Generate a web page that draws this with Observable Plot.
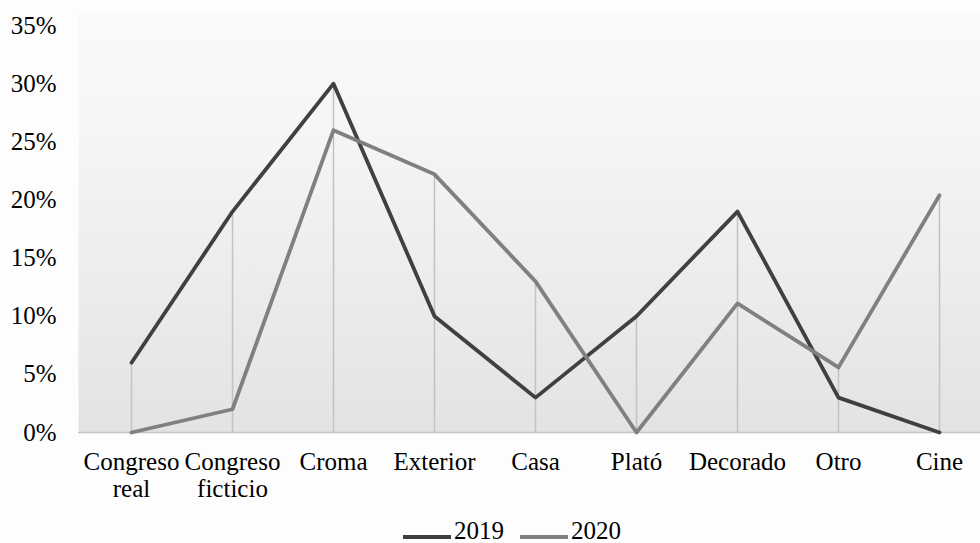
<!DOCTYPE html>
<html>
<head>
<meta charset="utf-8">
<script src="https://cdn.jsdelivr.net/npm/d3@7"></script>
<script src="https://cdn.jsdelivr.net/npm/@observablehq/plot@0.6"></script>
<style>
  html, body { margin: 0; padding: 0; background: #fdfdfd; overflow: hidden; }
  #chart { width: 980px; height: 543px; position: relative; font-family: "Liberation Serif", "Times New Roman", serif; }
  .legend { position: absolute; left: 0; top: 518px; width: 980px; box-sizing: border-box; padding-left: 44px; display: flex; justify-content: center; align-items: center; font-size: 25px; line-height: 25px; height: 25px; color: #000; }
  .legend .item { display: flex; align-items: center; margin: 0 8px; }
  .legend .swatch { width: 48px; height: 4px; margin-right: 3px; position: relative; top: 6px; }
</style>
</head>
<body>
<div id="chart"></div>
<script>
// Shooting locations, share per year
const categories = ["Congreso real", "Congreso ficticio", "Croma", "Exterior", "Casa", "Plató", "Decorado", "Otro", "Cine"];
const values2019 = [6, 19, 30, 10, 3, 10, 19, 3, 0];
const values2020 = [0, 2, 26, 22.2, 13, 0, 11.1, 5.6, 20.4];
const seriesNames = ["2019", "2020"];
const seriesColors = ["#404040", "#808080"];
const yTicks = [0, 5, 10, 15, 20, 25, 30, 35];
const tickLabels = {"Congreso real": "Congreso\nreal", "Congreso ficticio": "Congreso\nficticio"};

const rows = [];
categories.forEach((c, i) => {
  rows.push({category: c, year: "2019", value: values2019[i]});
  rows.push({category: c, year: "2020", value: values2020[i]});
});
const peaks = categories.map((c, i) => ({category: c, value: Math.max(values2019[i], values2020[i])}));

const width = 980, height = 512;
const chart = Plot.plot({
  width, height,
  marginLeft: 78, marginRight: -11.5, marginTop: 25, marginBottom: height - 432,
  style: {fontFamily: "'Liberation Serif', 'Times New Roman', serif", fontSize: "25px", background: "transparent", overflow: "visible"},
  x: {type: "point", domain: categories, padding: 0.5},
  y: {domain: [0, 35]},
  color: {domain: seriesNames, range: seriesColors},
  marks: [
    Plot.frame({fill: "url(#plotShade)", stroke: "none", insetTop: -12}),
    Plot.ruleX(peaks, {x: "category", y1: 0, y2: "value", stroke: "#c2c2c2", strokeWidth: 1.5}),
    Plot.ruleY([0], {stroke: "#c4c4c4", strokeWidth: 1.5}),
    Plot.line(rows, {x: "category", y: "value", z: "year", stroke: "year", strokeWidth: 3.8, strokeLinejoin: "round"}),
    Plot.axisY({ticks: yTicks, tickSize: 0, tickPadding: 22, tickFormat: d => d + "%", fontSize: 25, fill: "#000", label: null}),
    Plot.axisX({tickSize: 0, tickPadding: 18, tickFormat: d => tickLabels[d] || d, fontSize: 25, lineHeight: 1.08, fill: "#000", label: null})
  ]
});

// vertical shading for the plot area
const defs = d3.select(chart).insert("defs", ":first-child");
const grad = defs.append("linearGradient").attr("id", "plotShade").attr("x1", 0).attr("y1", 0).attr("x2", 0).attr("y2", 1);
grad.append("stop").attr("offset", "0%").attr("stop-color", "#fafafa");
grad.append("stop").attr("offset", "25%").attr("stop-color", "#f6f6f6");
grad.append("stop").attr("offset", "100%").attr("stop-color", "#e3e3e3");

const root = document.getElementById("chart");
root.appendChild(chart);

const legend = document.createElement("div");
legend.className = "legend";
seriesNames.forEach((name, i) => {
  const item = document.createElement("div");
  item.className = "item";
  const sw = document.createElement("span");
  sw.className = "swatch";
  sw.style.background = seriesColors[i];
  const label = document.createElement("span");
  label.textContent = name;
  item.appendChild(sw);
  item.appendChild(label);
  legend.appendChild(item);
});
root.appendChild(legend);
</script>
</body>
</html>
